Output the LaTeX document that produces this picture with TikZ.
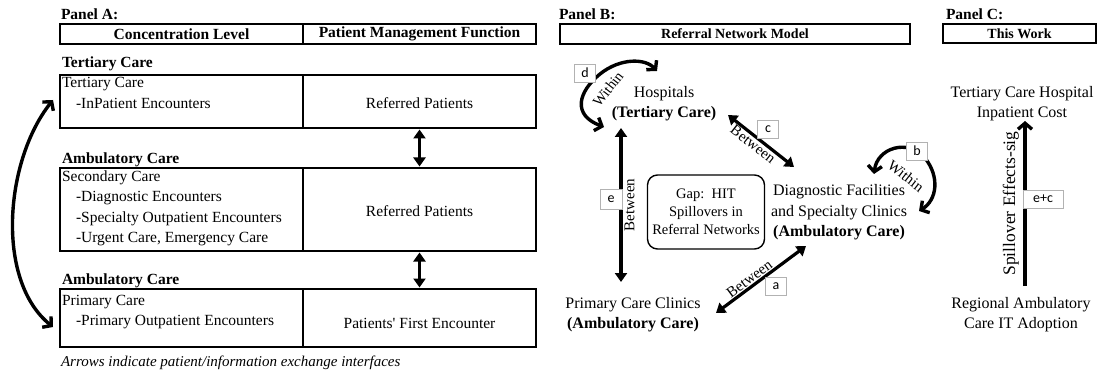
\documentclass[tikz,border=0pt]{standalone}
\usepackage{fontspec}
\setmainfont{Liberation Serif}
\newfontfamily\rawserif{Liberation Serif}
\newfontfamily\lblfont{Carlito}
\usetikzlibrary{arrows.meta}
\begin{document}
\begin{tikzpicture}[x=1pt,y=-1pt,
  every node/.style={inner sep=0pt, outer sep=0pt},
  cell/.style={draw, line width=1.4pt, anchor=north west},
  hdr/.style={draw, line width=1.8pt, anchor=north west},
  txtA/.style={font=\fontsize{15.5}{20}\selectfont},
  boldA/.style={font=\fontsize{15.5}{20}\selectfont\bfseries},
  hdrtxt/.style={font=\fontsize{14}{16}\selectfont\bfseries},
  txtB/.style={font=\fontsize{16}{20.5}\selectfont, align=center},
  rlab/.style={font=\fontsize{15}{18}\selectfont},
  lbl/.style={draw=black!30, line width=0.8pt, fill=white, font=\lblfont\fontsize{14}{16}\selectfont, minimum width=21pt, minimum height=18pt},
  dbl/.style={line width=3.2pt, {Triangle[length=9pt,width=12pt]}-{Triangle[length=9pt,width=12pt]}},
  crv/.style={line width=3.4pt, {Straight Barb[length=6pt,width=14pt]}-{Straight Barb[length=6pt,width=14pt]}},
  sgl/.style={line width=3.4pt, -{Straight Barb[length=6pt,width=14pt]}},
]
\useasboundingbox (0,0) rectangle (1099,374);

% ---------------- Panel A ----------------
\node[boldA, anchor=west] (pA) at (61,14) {Panel A:};
\node[hdr, minimum width=243pt, minimum height=20pt] (hA1) at (60,24) {};
\node[hdr, minimum width=233pt, minimum height=20pt] (hA2) at (303,24) {};
\node[boldA] (hA1t) at (hA1.center) {Concentration Level};
\node[boldA] (hA2t) at (hA2.center) {Patient Management Function};

\node[cell, minimum width=243pt, minimum height=53pt] (r1l) at (60,75) {};
\node[cell, minimum width=233pt, minimum height=53pt] (r1r) at (303,75) {};
\node[cell, minimum width=243pt, minimum height=83pt] (r2l) at (60,168) {};
\node[cell, minimum width=233pt, minimum height=83pt] (r2r) at (303,168) {};
\node[cell, minimum width=243pt, minimum height=58pt] (r3l) at (60,289) {};
\node[cell, minimum width=233pt, minimum height=58pt] (r3r) at (303,289) {};

\node[boldA, anchor=west] (h1) at (62,64) {Tertiary Care};
\node[txtA, anchor=west] (t1a) at (62,84) {Tertiary Care};
\node[txtA, anchor=west] (t1b) at (76,103) {-InPatient Encounters};
\node[txtA] (t1r) at (419.5,103) {Referred Patients};

\node[boldA, anchor=west] (h2) at (62,160) {Ambulatory Care};
\node[txtA, anchor=west] (t2a) at (62,178) {Secondary Care};
\node[txtA, anchor=west] (t2b) at (76,198) {-Diagnostic Encounters};
\node[txtA, anchor=west] (t2c) at (76,219) {-Specialty Outpatient Encounters};
\node[txtA, anchor=west] (t2d) at (76,239) {-Urgent Care, Emergency Care};
\node[txtA] (t2r) at (419.5,211) {Referred Patients};

\node[boldA, anchor=west] (h3) at (62,281) {Ambulatory Care};
\node[txtA, anchor=west] (t3a) at (62,302) {Primary Care};
\node[txtA, anchor=west] (t3b) at (76,322) {-Primary Outpatient Encounters};
\node[txtA] (t3r) at (419.5,323) {Patients{\rawserif'} First Encounter};

\node[font=\fontsize{15}{18}\selectfont\itshape, anchor=west] (cap) at (61,363) {Arrows indicate patient/information exchange interfaces};

\draw[dbl, shorten <=1.5pt, shorten >=1.5pt] (r1r.south) -- (r2r.north);
\draw[dbl, shorten <=1.5pt, shorten >=1.5pt] (r2r.south) -- (r3r.north);

\coordinate (lc1) at (53,100);
\coordinate (lc2) at (53,327);
\draw[crv] (lc1) .. controls (5,160) and (-5,280) .. (lc2);

% ---------------- Panel B ----------------
\node[boldA, anchor=west] (pB) at (559,14) {Panel B:};
\node[hdr, minimum width=350pt, minimum height=20pt] (hB) at (560,24) {};
\node[hdrtxt] (hBt) at (hB.center) {Referral Network Model};

\node[txtB] (hosp) at (664,103.5) {Hospitals\\\textbf{(Tertiary Care)}};
\node[txtB] (diag) at (839,212.5) {Diagnostic Facilities\\and Specialty Clinics\\\textbf{(Ambulatory Care)}};
\node[txtB] (prim) at (633,314.5) {Primary Care Clinics\\\textbf{(Ambulatory Care)}};
\node[draw, rounded corners=10pt, line width=1.4pt, minimum width=117pt, minimum height=74pt,
      align=center, font=\fontsize{14.5}{18}\selectfont] (gap) at (706,212) {Gap:\ \ HIT\\Spillovers in\\Referral Networks};

% c: hospitals <-> diagnostic
\coordinate (c1) at (728,115);
\coordinate (c2) at (794,167);
\draw[dbl] (c1) -- node[rlab, sloped, below=2.5pt, pos=0.45] (bc) {Between} (c2);
\node[lbl] (lc) at (768,129) {c};

% a: primary <-> diagnostic
\coordinate (a1) at (716,313);
\coordinate (a2) at (806,246);
\draw[dbl] (a1) -- node[rlab, sloped, above=2.5pt, pos=0.42] (ba) {Between} (a2);
\node[lbl] (la) at (776,286) {a};

% e: primary <-> hospitals
\coordinate (e1) at (621,128);
\coordinate (e2) at (621,282);
\draw[dbl] (e2) -- node[rlab, sloped, below=3.5pt, pos=0.5] (be) {Between} (e1);
\node[lbl, minimum width=22pt, minimum height=20pt] (le) at (611,199) {e};

% d: within hospitals
\coordinate (d1) at (657,71);
\coordinate (d2) at (604,127);
\draw[crv] (d1) .. controls (645,58) and (620,58) .. (600,74) .. controls (578,92) and (572,115) .. (d2);
\node[rlab, rotate=52, font=\fontsize{14.5}{17}\selectfont] (wd) at (608,89) {Within};
\node[lbl] (ld) at (585,73) {d};

% b: within diagnostic
\coordinate (b1) at (874,174);
\coordinate (b2) at (919,211);
\draw[crv] (b1) .. controls (877,148) and (908,138) .. (925,158) .. controls (940,177) and (937,200) .. (b2);
\node[rlab, rotate=-38] (wb) at (906,176) {Within};
\node[lbl] (lb) at (917,151) {b};

% ---------------- Panel C ----------------
\node[boldA, anchor=west] (pC) at (946,14) {Panel C:};
\node[hdr, minimum width=153pt, minimum height=19pt] (hC) at (943,24) {};
\node[hdrtxt] (hCt) at (hC.center) {This Work};

\node[txtB] (tc) at (1022,103.5) {Tertiary Care Hospital\\Inpatient Cost};
\node[txtB] (rc) at (1021,314.5) {Regional Ambulatory\\Care IT Adoption};
\coordinate (s1) at (1025,286);
\coordinate (s2) at (1025,121);
\draw[sgl] (s1) -- node[sloped, above=6pt, font=\fontsize{17.5}{20}\selectfont] (sp) {Spillover Effects-sig} (s2);
\node[lbl, minimum width=40pt, minimum height=18pt] (lec) at (1043,199) {e+c};
\end{tikzpicture}
\end{document}
